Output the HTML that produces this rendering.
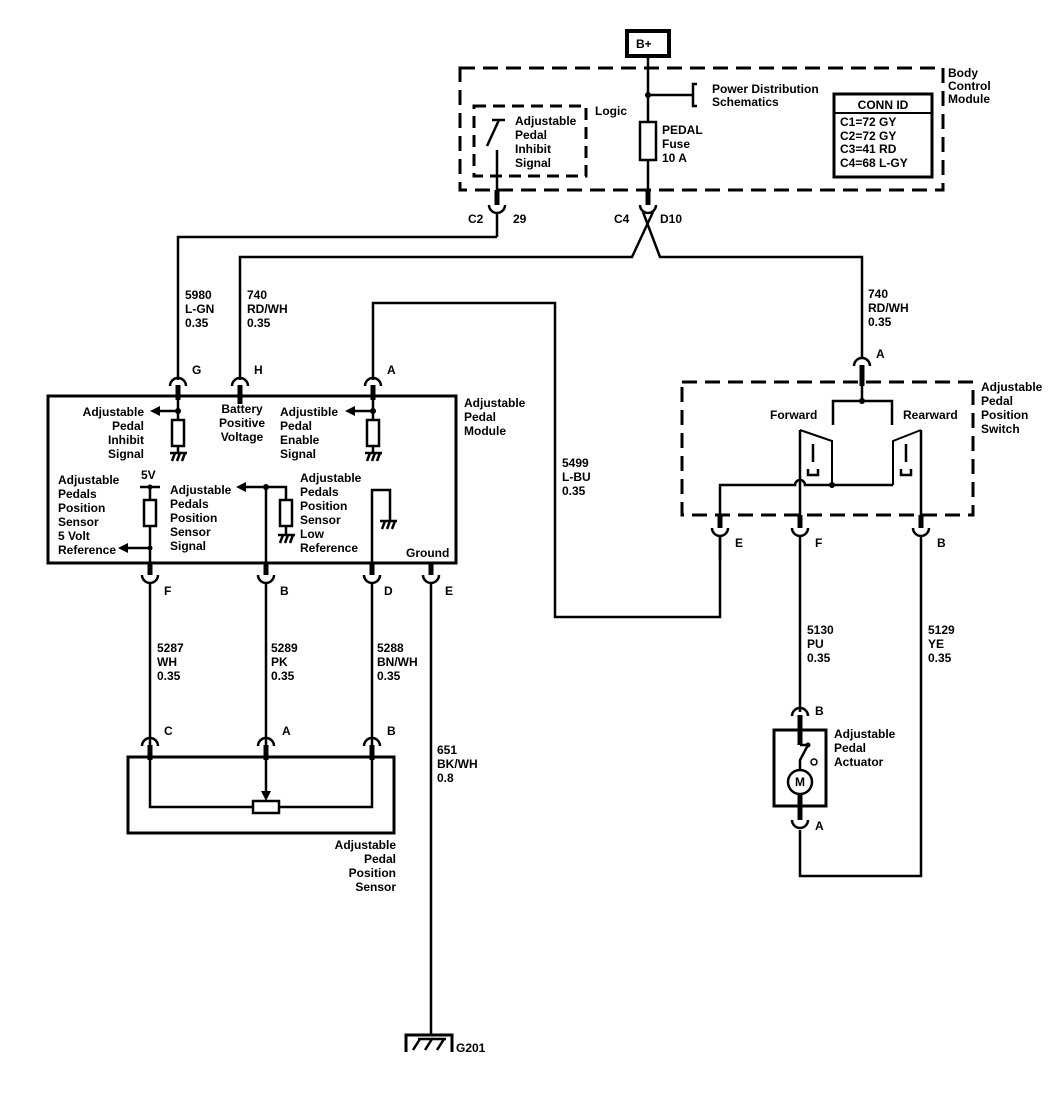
<!DOCTYPE html>
<html><head><meta charset="utf-8"><style>
html,body{margin:0;padding:0;background:#fff}
svg text{font-family:"Liberation Sans",sans-serif;font-size:12px;font-weight:bold;fill:#000}
</style></head><body>
<svg width="1064" height="1088" viewBox="0 0 1064 1088" xmlns="http://www.w3.org/2000/svg">
<g fill="none" stroke="#000" stroke-width="2.5">
<rect x="627" y="31" width="42" height="25" stroke-width="4"/>
<line x1="648" y1="57" x2="648" y2="200"/>
<rect x="460" y="68" width="483" height="122" stroke-width="3" stroke-dasharray="15 8"/>
<line x1="648" y1="95" x2="693" y2="95"/>
<path d="M697 84 H693 V106 H697"/>
<rect x="834" y="94" width="98" height="83" stroke-width="3"/>
<line x1="834" y1="113" x2="932" y2="113" stroke-width="2"/>
<rect x="474" y="106" width="112" height="70" stroke-width="3" stroke-dasharray="12 7"/>
<line x1="492" y1="120" x2="505" y2="120"/>
<line x1="499" y1="120" x2="487" y2="146"/>
<line x1="497" y1="150" x2="497" y2="200"/>
<rect x="640" y="122" width="16" height="38" fill="#fff"/>
<line x1="497" y1="190" x2="497" y2="205" stroke-width="5"/>
<path d="M489 205 A8 8 0 0 0 505 205"/>
<line x1="497" y1="213" x2="497" y2="237"/>
<path d="M497 237 H178 V380"/>
<line x1="648" y1="190" x2="648" y2="205" stroke-width="5"/>
<path d="M640 205 A8 8 0 0 0 656 205"/>
<path d="M653 212 L632 257 H240 V380"/>
<path d="M643 212 L660 257 H862 V357"/>
<path d="M373 380 V303 H555 V617 H720 V535"/>
<rect x="48" y="396" width="408" height="167" stroke-width="3"/>
<path d="M170 386 A8 8 0 0 1 186 386"/>
<path d="M232 386 A8 8 0 0 1 248 386"/>
<path d="M365 386 A8 8 0 0 1 381 386"/>
<line x1="178" y1="385" x2="178" y2="400" stroke-width="5"/>
<line x1="240" y1="385" x2="240" y2="404" stroke-width="5"/>
<line x1="373" y1="385" x2="373" y2="400" stroke-width="5"/>
<line x1="178" y1="400" x2="178" y2="452"/>
<line x1="178" y1="411" x2="155" y2="411"/>
<rect x="172" y="420" width="12" height="26" fill="#fff"/>
<line x1="373" y1="400" x2="373" y2="452"/>
<line x1="373" y1="411" x2="350" y2="411"/>
<rect x="367" y="420" width="12" height="26" fill="#fff"/>
<path d="M170 453 H187 M172 461 L175 453 M177 461 L180 453 M182 461 L185 453"/>
<path d="M365 453 H382 M367 461 L370 453 M372 461 L375 453 M377 461 L380 453"/>
<path d="M278 535 H295 M280 543 L283 535 M285 543 L288 535 M290 543 L293 535"/>
<path d="M380 521 H397 M382 529 L385 521 M387 529 L390 521 M392 529 L395 521"/>
<line x1="140" y1="487" x2="160" y2="487"/>
<line x1="150" y1="487" x2="150" y2="575"/>
<rect x="144" y="500" width="12" height="26" fill="#fff"/>
<line x1="150" y1="548" x2="125" y2="548"/>
<line x1="266" y1="487" x2="266" y2="575"/>
<line x1="266" y1="487" x2="243" y2="487"/>
<path d="M266 487 H286 V534"/>
<rect x="280" y="500" width="12" height="26" fill="#fff"/>
<path d="M372 575 V490 H390 V520"/>
<line x1="431" y1="563" x2="431" y2="575" stroke-width="5"/>
<line x1="150" y1="563" x2="150" y2="575" stroke-width="5"/>
<line x1="266" y1="563" x2="266" y2="575" stroke-width="5"/>
<line x1="372" y1="563" x2="372" y2="575" stroke-width="5"/>
<path d="M142 575 A8 8 0 0 0 158 575"/>
<path d="M258 575 A8 8 0 0 0 274 575"/>
<path d="M364 575 A8 8 0 0 0 380 575"/>
<path d="M423 575 A8 8 0 0 0 439 575"/>
<line x1="150" y1="583" x2="150" y2="746"/>
<line x1="266" y1="583" x2="266" y2="746"/>
<line x1="372" y1="583" x2="372" y2="746"/>
<line x1="431" y1="583" x2="431" y2="1035"/>
<path d="M142 746 A8 8 0 0 1 158 746"/>
<path d="M258 746 A8 8 0 0 1 274 746"/>
<path d="M364 746 A8 8 0 0 1 380 746"/>
<line x1="150" y1="745" x2="150" y2="760" stroke-width="5"/>
<line x1="266" y1="745" x2="266" y2="760" stroke-width="5"/>
<line x1="372" y1="745" x2="372" y2="760" stroke-width="5"/>
<rect x="128" y="757" width="266" height="76" stroke-width="3"/>
<path d="M150 757 V807 H253"/>
<path d="M372 757 V807 H279"/>
<rect x="253" y="801" width="26" height="12" fill="#fff"/>
<line x1="266" y1="757" x2="266" y2="794"/>
<path d="M406 1052 V1035 H452 V1052" stroke-width="3"/>
<path d="M413 1050 L420 1039 M425 1050 L432 1039 M437 1050 L444 1039 M418 1039 H446"/>
<path d="M854 366 A8 8 0 0 1 870 366"/>
<line x1="862" y1="365" x2="862" y2="386" stroke-width="5"/>
<rect x="682" y="382" width="291" height="133" stroke-width="3" stroke-dasharray="15 8"/>
<line x1="862" y1="386" x2="862" y2="401"/>
<path d="M833 425 V401 H892 V425"/>
<path d="M800 430 V527"/>
<path d="M800 430 L832 441 V485" stroke-width="2"/>
<path d="M921 430 V527"/>
<path d="M921 430 L893 441 V485" stroke-width="2"/>
<path d="M720 527 V485 H795 A5 5 0 0 1 805 485 H893"/>
<path d="M813 444 V462 M808 469 V475 H818 V469" stroke-width="2.5"/>
<path d="M906 444 V462 M901 469 V475 H911 V469" stroke-width="2.5"/>
<line x1="720" y1="515" x2="720" y2="528" stroke-width="5"/>
<line x1="800" y1="515" x2="800" y2="528" stroke-width="5"/>
<line x1="921" y1="515" x2="921" y2="528" stroke-width="5"/>
<path d="M712 528 A8 8 0 0 0 728 528"/>
<path d="M792 528 A8 8 0 0 0 808 528"/>
<path d="M913 528 A8 8 0 0 0 929 528"/>
<line x1="720" y1="536" x2="720" y2="560"/>
<line x1="800" y1="536" x2="800" y2="712"/>
<path d="M921 536 V876 H800 V830"/>
<path d="M792 716 A8 8 0 0 1 808 716"/>
<line x1="800" y1="715" x2="800" y2="745" stroke-width="5"/>
<rect x="774" y="730" width="52" height="76" stroke-width="3"/>
<path d="M800 745 L808 745 L800 760 V770"/>
<circle cx="800" cy="782" r="12" fill="#fff"/>
<line x1="800" y1="794" x2="800" y2="820" stroke-width="5"/>
<path d="M792 820 A8 8 0 0 0 808 820"/>
</g>
<g fill="#000">
<circle cx="648" cy="95" r="3"/><circle cx="178" cy="411" r="3"/><circle cx="373" cy="411" r="3"/>
<circle cx="150" cy="487" r="2.5"/><circle cx="150" cy="548" r="2.5"/><circle cx="266" cy="487" r="3"/>
<circle cx="862" cy="401" r="3"/><circle cx="832" cy="485" r="3"/><circle cx="808" cy="745" r="2.5"/>
<polygon points="150,411 160,406 160,416"/><polygon points="345,411 355,406 355,416"/>
<polygon points="118,548 128,543 128,553"/><polygon points="236,487 246,482 246,492"/>
<polygon points="266,801 261,791 271,791"/>
</g>
<circle cx="814" cy="762" r="3" fill="none" stroke="#000" stroke-width="1.5"/>
<text x="636" y="48">B+</text>
<text x="712" y="93">Power Distribution</text><text x="712" y="106">Schematics</text>
<text x="948" y="77">Body</text><text x="948" y="90">Control</text><text x="948" y="103">Module</text>
<text x="883" y="109" text-anchor="middle">CONN ID</text>
<text x="840" y="126">C1=72 GY</text><text x="840" y="140">C2=72 GY</text><text x="840" y="153">C3=41 RD</text><text x="840" y="167">C4=68 L-GY</text>
<text x="595" y="115">Logic</text>
<text x="515" y="125">Adjustable</text><text x="515" y="139">Pedal</text><text x="515" y="153">Inhibit</text><text x="515" y="167">Signal</text>
<text x="662" y="134">PEDAL</text><text x="662" y="148">Fuse</text><text x="662" y="162">10 A</text>
<text x="468" y="223">C2</text><text x="513" y="223">29</text>
<text x="614" y="223">C4</text><text x="660" y="223">D10</text>
<text x="185" y="299">5980</text><text x="185" y="313">L-GN</text><text x="185" y="327">0.35</text>
<text x="247" y="299">740</text><text x="247" y="313">RD/WH</text><text x="247" y="327">0.35</text>
<text x="868" y="298">740</text><text x="868" y="312">RD/WH</text><text x="868" y="326">0.35</text>
<text x="562" y="467">5499</text><text x="562" y="481">L-BU</text><text x="562" y="495">0.35</text>
<text x="192" y="374">G</text><text x="254" y="374">H</text><text x="387" y="374">A</text><text x="876" y="358">A</text>
<text x="464" y="407">Adjustable</text><text x="464" y="421">Pedal</text><text x="464" y="435">Module</text>
<text x="144" y="416" text-anchor="end">Adjustable</text><text x="144" y="430" text-anchor="end">Pedal</text><text x="144" y="444" text-anchor="end">Inhibit</text><text x="144" y="458" text-anchor="end">Signal</text>
<text x="242" y="413" text-anchor="middle">Battery</text><text x="242" y="427" text-anchor="middle">Positive</text><text x="242" y="441" text-anchor="middle">Voltage</text>
<text x="280" y="416">Adjustible</text><text x="280" y="430">Pedal</text><text x="280" y="444">Enable</text><text x="280" y="458">Signal</text>
<text x="141" y="479">5V</text>
<text x="58" y="484">Adjustable</text><text x="58" y="498">Pedals</text><text x="58" y="512">Position</text><text x="58" y="526">Sensor</text><text x="58" y="540">5 Volt</text><text x="58" y="554">Reference</text>
<text x="170" y="494">Adjustable</text><text x="170" y="508">Pedals</text><text x="170" y="522">Position</text><text x="170" y="536">Sensor</text><text x="170" y="550">Signal</text>
<text x="300" y="482">Adjustable</text><text x="300" y="496">Pedals</text><text x="300" y="510">Position</text><text x="300" y="524">Sensor</text><text x="300" y="538">Low</text><text x="300" y="552">Reference</text>
<text x="406" y="557">Ground</text>
<text x="164" y="595">F</text><text x="280" y="595">B</text><text x="384" y="595">D</text><text x="445" y="595">E</text>
<text x="157" y="652">5287</text><text x="157" y="666">WH</text><text x="157" y="680">0.35</text>
<text x="271" y="652">5289</text><text x="271" y="666">PK</text><text x="271" y="680">0.35</text>
<text x="377" y="652">5288</text><text x="377" y="666">BN/WH</text><text x="377" y="680">0.35</text>
<text x="437" y="754">651</text><text x="437" y="768">BK/WH</text><text x="437" y="782">0.8</text>
<text x="164" y="735">C</text><text x="282" y="735">A</text><text x="387" y="735">B</text>
<text x="396" y="849" text-anchor="end">Adjustable</text><text x="396" y="863" text-anchor="end">Pedal</text><text x="396" y="877" text-anchor="end">Position</text><text x="396" y="891" text-anchor="end">Sensor</text>
<text x="456" y="1052">G201</text>
<text x="770" y="419">Forward</text><text x="903" y="419">Rearward</text>
<text x="981" y="391">Adjustable</text><text x="981" y="405">Pedal</text><text x="981" y="419">Position</text><text x="981" y="433">Switch</text>
<text x="735" y="547">E</text><text x="815" y="547">F</text><text x="937" y="547">B</text>
<text x="807" y="634">5130</text><text x="807" y="648">PU</text><text x="807" y="662">0.35</text>
<text x="928" y="634">5129</text><text x="928" y="648">YE</text><text x="928" y="662">0.35</text>
<text x="815" y="715">B</text><text x="815" y="830">A</text>
<text x="795" y="786" font-size="11">M</text>
<text x="834" y="738">Adjustable</text><text x="834" y="752">Pedal</text><text x="834" y="766">Actuator</text>
</svg>
</body></html>
